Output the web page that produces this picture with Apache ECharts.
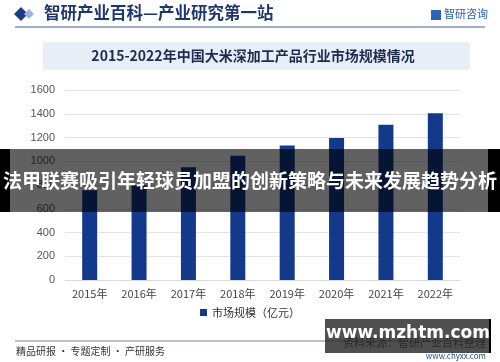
<!DOCTYPE html>
<html>
<head>
<meta charset="utf-8">
<script src="https://cdn.jsdelivr.net/npm/echarts@6/dist/echarts.min.js"></script>
<style>
html,body{margin:0;padding:0;background:#fff;}
#main{width:500px;height:362px;}
</style>
</head>
<body>
<div id="main"></div>
<script>
var categories = ['2015年','2016年','2017年','2018年','2019年','2020年','2021年','2022年'];
var marketSize = [755, 800, 950, 1047, 1133, 1195, 1307, 1405];
var seriesName = '市场规模（亿元）';
var yTicks = [0, 200, 400, 600, 800, 1000, 1200, 1400, 1600];

var CJK = '"Noto Sans CJK SC", "Noto Sans", sans-serif';
var chart = echarts.init(document.getElementById('main'), null, {renderer: 'canvas'});
chart.setOption({
  backgroundColor: '#ffffff',
  animation: false,
  grid: {left: 65, right: 40, top: 90, bottom: 82},
  legend: {
    data: [seriesName],
    bottom: 39,
    left: 'center',
    itemWidth: 7, itemHeight: 7, itemGap: 4,
    icon: 'rect',
    textStyle: {fontSize: 11, color: '#333', fontFamily: CJK}
  },
  xAxis: {
    type: 'category',
    data: categories,
    axisLine: {show: true, lineStyle: {color: '#d9d9d9'}},
    axisTick: {show: false},
    axisLabel: {fontSize: 11, color: '#444', margin: 8, fontFamily: CJK}
  },
  yAxis: {
    type: 'value',
    min: yTicks[0], max: yTicks[yTicks.length - 1], interval: 200,
    axisLine: {show: false},
    axisTick: {show: false},
    splitLine: {lineStyle: {color: '#e3e3e3'}},
    axisLabel: {fontSize: 11, color: '#555', margin: 10, fontFamily: '"Liberation Sans", Arial, sans-serif',
      formatter: function (v) { return String(v); }}
  },
  series: [{
    name: seriesName,
    type: 'bar',
    data: marketSize,
    barWidth: 15,
    itemStyle: {color: '#12398a'}
  }],
  graphic: [
    // header
    {type: 'polygon', left: 14, top: 7, shape: {points: [[7,0],[14,7],[7,14],[0,7]]}, style: {fill: '#1d3d86'}},
    {type: 'polygon', left: 24, top: 9, shape: {points: [[5,0],[10,5],[5,10],[0,5]]}, style: {fill: '#9fb4dc'}},
    {type: 'text', left: 44, top: 4, style: {text: '智研产业百科—产业研究第一站', font: 'bold 16.5px ' + CJK, fill: '#1d3670'}},
    {type: 'rect', left: 431, top: 10, shape: {width: 10, height: 10}, style: {fill: '#2a63b8'}},
    {type: 'text', left: 444, top: 8, style: {text: '智研咨询', font: '11px ' + CJK, fill: '#2a63b8'}},
    {type: 'line', shape: {x1: 15, y1: 27, x2: 485, y2: 27}, style: {stroke: '#3e5c94', lineWidth: 1}},
    // title box
    {type: 'rect', shape: {x: 43, y: 42, width: 427, height: 28}, style: {fill: '#e8eef8'}},
    {type: 'text', x: 253, y: 56, style: {text: '2015-2022年中国大米深加工产品行业市场规模情况', font: 'bold 14px ' + CJK, fill: '#1c2b4e', textAlign: 'center', textVerticalAlign: 'middle'}},
    // footer
    {type: 'line', shape: {x1: 15, y1: 341, x2: 485, y2: 341}, style: {stroke: '#6b7fa8', lineWidth: 1}},
    {type: 'text', left: 16, top: 346, style: {text: '精品研报 · 专题定制 · 产研服务', font: '10px ' + CJK, fill: '#333'}},
    {type: 'text', x: 486, y: 343, style: {text: '资料来源：智研产业百科整理', font: '11px ' + CJK, fill: '#333', textAlign: 'right', textVerticalAlign: 'middle'}},
    {type: 'text', x: 486, y: 356, style: {text: 'www.chyxx.com', font: '8px ' + CJK, fill: '#2a4a8a', textAlign: 'right', textVerticalAlign: 'middle'}},
    // overlay banner
    {type: 'rect', z: 100, shape: {x: 0, y: 149, width: 500, height: 63}, style: {fill: 'rgba(0,0,0,0.62)'}},
    {type: 'rect', z: 101, shape: {x: 0, y: 149, width: 10, height: 63}, style: {fill: '#000'}},
    {type: 'rect', z: 101, shape: {x: 488, y: 149, width: 12, height: 63}, style: {fill: '#000'}},
    {type: 'text', z: 102, x: 250, y: 181, style: {text: '法甲联赛吸引年轻球员加盟的创新策略与未来发展趋势分析', font: 'bold 19px ' + CJK, fill: '#ffffff', textAlign: 'center', textVerticalAlign: 'middle'}},
    // watermark box
    {type: 'rect', z: 100, shape: {x: 325, y: 319, width: 166, height: 34}, style: {fill: 'rgba(40,40,40,0.82)'}},
    {type: 'rect', z: 101, shape: {x: 489, y: 319, width: 2, height: 34}, style: {fill: '#000'}},
    {type: 'text', z: 102, x: 408, y: 334, style: {text: 'www.mzhtm.com', font: 'bold 17px "DejaVu Sans", sans-serif', fill: '#ffffff', textAlign: 'center', textVerticalAlign: 'middle'}}
  ]
});
</script>
</body>
</html>
